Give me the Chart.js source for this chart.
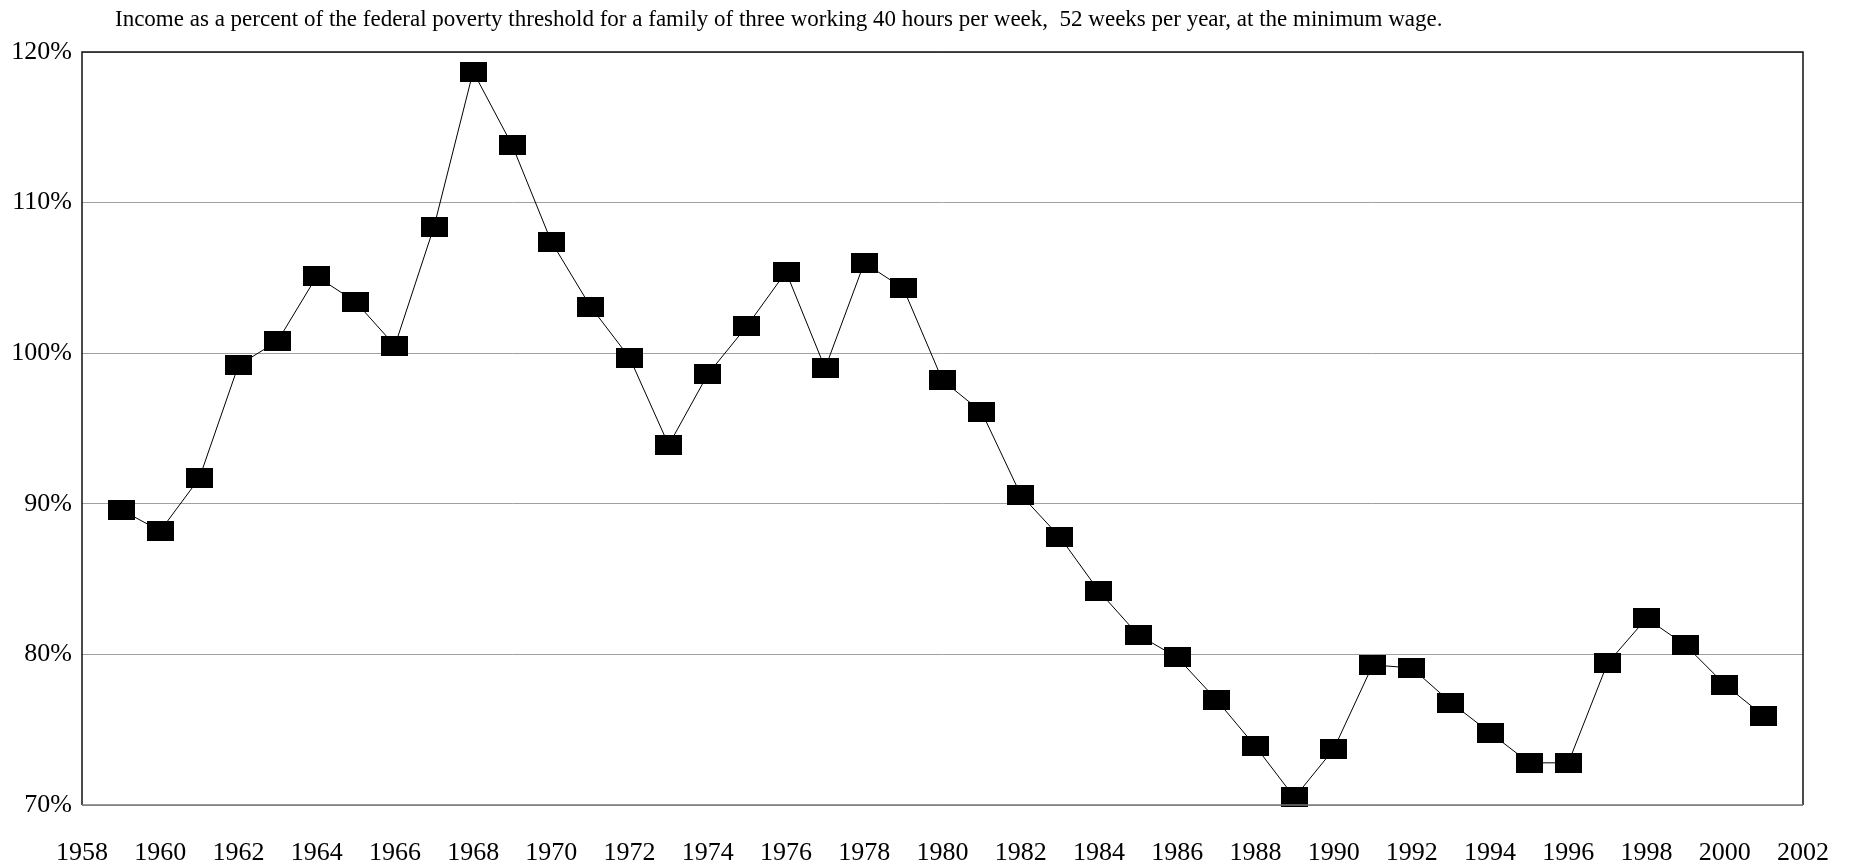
<!DOCTYPE html>
<html>
<head>
<meta charset="utf-8">
<script src="https://cdn.jsdelivr.net/npm/chart.js@4"></script>
<style>
  html, body { margin: 0; padding: 0; background: #fff; overflow: hidden; }
  #wrap { position: relative; width: 1849px; height: 868px; }
  #grafico { display: block; }
</style>
</head>
<body>
<div id="wrap"><canvas id="grafico"></canvas></div>
<script>
const titulo = 'Income as a percent of the federal poverty threshold for a family of three working 40 hours per week,  52 weeks per year, at the minimum wage.';
const anos = [1959, 1960, 1961, 1962, 1963, 1964, 1965, 1966, 1967, 1968, 1969, 1970,
    1971, 1972, 1973, 1974, 1975, 1976, 1977, 1978, 1979, 1980, 1981, 1982, 1983,
    1984, 1985, 1986, 1987, 1988, 1989, 1990, 1991, 1992, 1993, 1994, 1995, 1996,
    1997, 1998, 1999, 2000, 2001];
const percentual = [89.6, 88.2, 91.7, 99.2, 100.8, 105.1, 103.4, 100.5, 108.4, 118.7, 113.8, 107.4,
    103.1, 99.7, 93.9, 98.6, 101.8, 105.4, 99.0, 106.0, 104.3, 98.2, 96.1, 90.6, 87.8,
    84.2, 81.3, 79.8, 77.0, 73.9, 70.5, 73.7, 79.3, 79.1, 76.8, 74.8, 72.8, 72.8,
    79.4, 82.4, 80.6, 78.0, 75.9];
const ticksX = { min: 1958, max: 2002, step: 2 };
const ticksY = { min: 70, max: 120, step: 10 };

// marcador retangular preto
const marcador = document.createElement('canvas');
marcador.width = 27;
marcador.height = 20;
const mctx = marcador.getContext('2d');
mctx.fillStyle = '#000';
mctx.fillRect(0, 0, 27, 20);

const fonte = "'Liberation Serif', 'Times New Roman', serif";

const moldura = {
    id: 'moldura',
    afterDraw(chart) {
        const { ctx, chartArea: a } = chart;
        ctx.save();
        ctx.strokeStyle = '#111';
        ctx.lineWidth = 1.5;
        ctx.beginPath();
        ctx.moveTo(a.left, a.bottom);
        ctx.lineTo(a.left, a.top);
        ctx.lineTo(a.right, a.top);
        ctx.lineTo(a.right, a.bottom);
        ctx.stroke();
        ctx.strokeStyle = '#777';
        ctx.beginPath();
        ctx.moveTo(a.left, a.bottom);
        ctx.lineTo(a.right, a.bottom);
        ctx.stroke();
        ctx.fillStyle = '#000';
        ctx.font = '23px ' + fonte;
        ctx.textBaseline = 'middle';
        ctx.textAlign = 'left';
        ctx.fillText(titulo, a.left + 33, 20);
        ctx.restore();
    }
};

const ctxGrafico = document.getElementById('grafico').getContext('2d');

new Chart(ctxGrafico, {
    type: 'line',
    data: {
        datasets: [{
            label: 'Percent of poverty threshold',
            data: anos.map((a, i) => ({ x: a, y: percentual[i] })),
            borderColor: '#000',
            borderWidth: 1,
            tension: 0,
            pointStyle: marcador,
            clip: false
        }]
    },
    options: {
        responsive: true,
        maintainAspectRatio: false,
        animation: false,
        layout: { padding: { top: 52, right: 46, left: 0, bottom: 0 } },
        plugins: {
            legend: { display: false },
            title: { display: false },
            tooltip: { enabled: false }
        },
        scales: {
            x: {
                type: 'linear',
                min: ticksX.min,
                max: ticksX.max,
                grid: { display: false, drawTicks: false },
                border: { display: false },
                ticks: {
                    stepSize: ticksX.step,
                    padding: 33,
                    color: '#000',
                    maxRotation: 0,
                    autoSkip: false,
                    font: { family: fonte, size: 26 },
                    callback: v => String(v)
                },
                afterFit: s => {
                    s.height = 63;
                    s.paddingLeft = 0;
                    s.paddingRight = 0;
                }
            },
            y: {
                min: ticksY.min,
                max: ticksY.max,
                grid: { color: '#a0a0a0', lineWidth: 1, drawTicks: false },
                border: { display: false },
                ticks: {
                    stepSize: ticksY.step,
                    padding: 10,
                    color: '#000',
                    font: { family: fonte, size: 26 },
                    callback: v => v + '%'
                },
                afterFit: s => { s.width = 82; }
            }
        }
    },
    plugins: [moldura]
});
</script>
</body>
</html>
